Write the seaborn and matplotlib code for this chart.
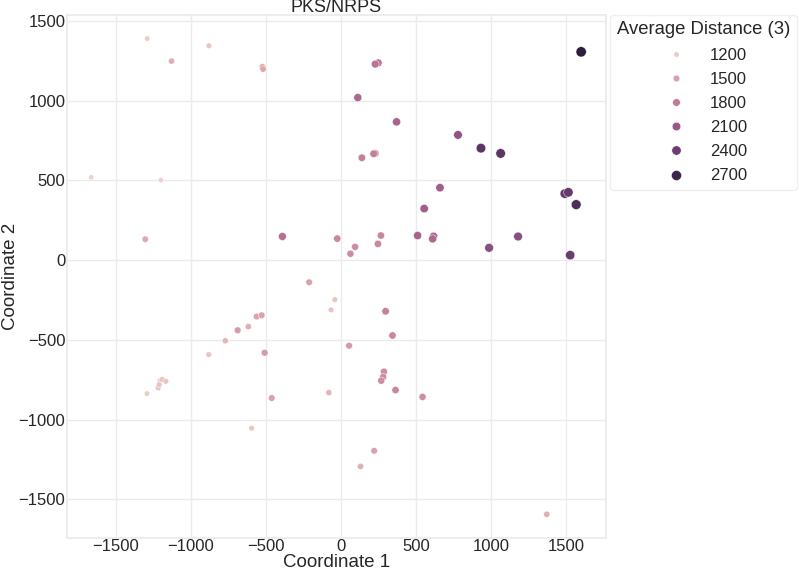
import pandas as pd
import numpy as np
import matplotlib
matplotlib.use("Agg")
import matplotlib.pyplot as plt
import seaborn as sns

# Coordinates
coord1 = [-1663, -1290, -879, -1128, -523, -519, -1199, -1303, -390, -25,
          1599, 248, 228, 112, 370, 139, 228, 217, 779, 932,
          1063, 659, 554, 1490, 1514, 1566, 94, 63, 266, 246,
          510, 617, 610, 986, 1179, 1526,
          -212, -41, -66, -561, -528, -617, -688, -770, -881, -508,
          -1292, -1217, -1206, -1210, -1190, -1166, -461, -81, -595,
          297, 343, 54, 286, 281, 268, 363, 543, 221, 130, 1370]
coord2 = [519, 1389, 1344, 1248, 1212, 1198, 502, 131, 148, 135,
          1306, 1237, 1229, 1019, 867, 642, 669, 667, 785, 702,
          669, 454, 323, 417, 425, 348, 83, 40, 154, 102,
          154, 150, 133, 77, 148, 31,
          -139, -248, -312, -354, -346, -417, -440, -506, -592, -581,
          -837, -802, -756, -781, -748, -760, -865, -831, -1054,
          -321, -473, -537, -700, -733, -756, -815, -858, -1196, -1294, -1594]
avg_dist = [1150, 1200, 1250, 1400, 1450, 1450, 1150, 1450, 1900, 1700,
            2800, 1850, 1850, 1950, 2000, 1750, 1750, 1750, 2150, 2500,
            2500, 2050, 2050, 2450, 2450, 2600, 1650, 1650, 1700, 1700,
            2000, 1950, 1950, 2200, 2200, 2400,
            1500, 1250, 1250, 1500, 1500, 1400, 1550, 1350, 1250, 1550,
            1200, 1250, 1200, 1250, 1250, 1250, 1500, 1350, 1250,
            1750, 1700, 1550, 1650, 1650, 1650, 1700, 1650, 1500, 1400, 1400]

df = pd.DataFrame({"Coordinate 1": coord1,
                   "Coordinate 2": coord2,
                   "Average Distance (3)": avg_dist})

sns.set_theme(style="whitegrid", rc={"grid.color": "#ebebeb",
                                     "axes.edgecolor": "#ebebeb"})
plt.rcParams["font.family"] = ["Liberation Sans", "DejaVu Sans"]

fig, ax = plt.subplots(figsize=(7.99, 5.70), dpi=100)
fig.subplots_adjust(left=0.0835, right=0.758, top=0.974, bottom=0.056)

sns.scatterplot(data=df, x="Coordinate 1", y="Coordinate 2",
                hue="Average Distance (3)", size="Average Distance (3)",
                sizes=(14, 55), ax=ax)

ax.set_title("PKS/NRPS", fontsize=13, pad=2)
ax.set_xlabel("Coordinate 1", fontsize=13.5, labelpad=0)
ax.set_ylabel("Coordinate 2", fontsize=13.5, labelpad=0)
ax.tick_params(labelsize=12, pad=1, length=0)

leg = ax.legend(bbox_to_anchor=(1.008, 1.0), loc="upper left", borderaxespad=0,
                title="Average Distance (3)", fontsize=12, title_fontsize=13.3,
                labelspacing=0.55, handletextpad=1.0, borderpad=0.4)
leg.get_frame().set_edgecolor("#ebebeb")

fig.savefig("out.png", dpi=100)
